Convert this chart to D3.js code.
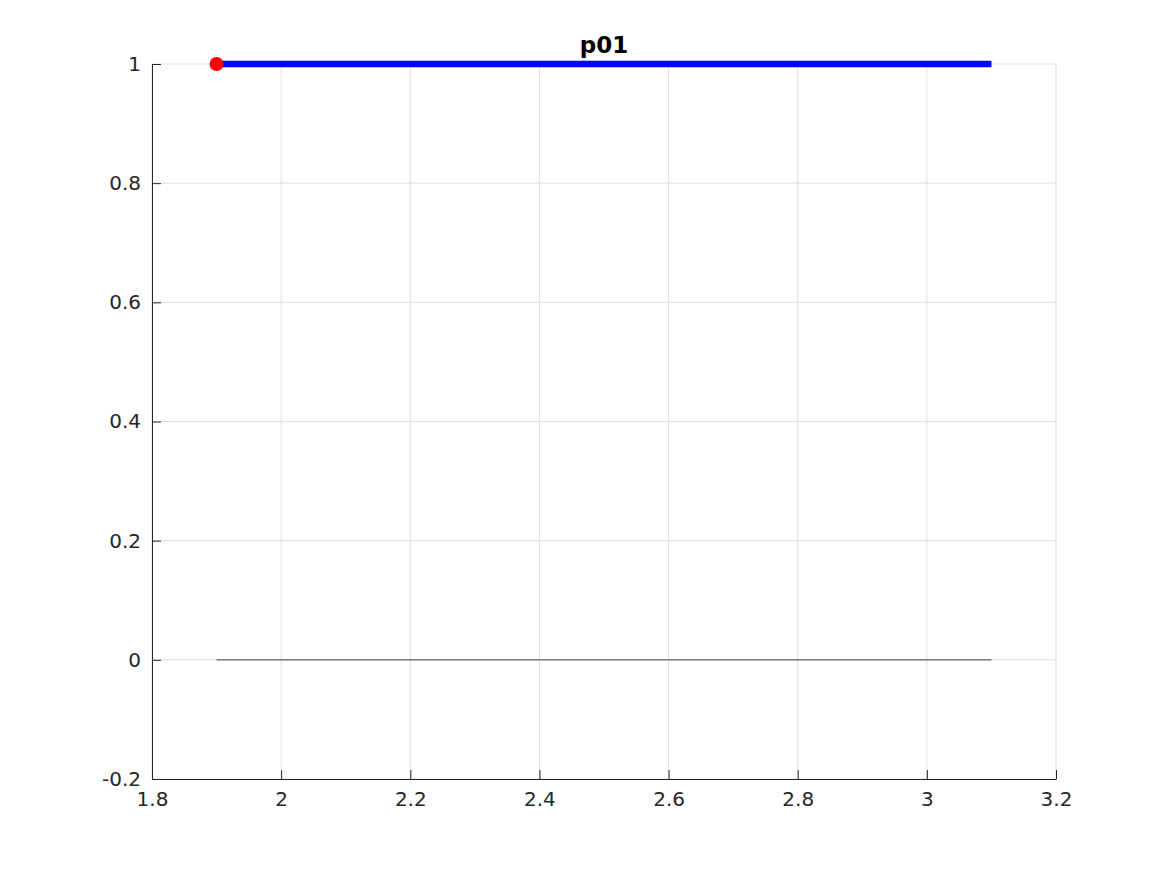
<!DOCTYPE html>
<html>
<head>
<meta charset="utf-8">
<script src="https://cdn.jsdelivr.net/npm/d3@7"></script>
<style>
  body { margin: 0; background: #fff; }
  text { font-family: "DejaVu Sans", sans-serif; }
</style>
</head>
<body>
<svg id="chart" width="1167" height="875"></svg>
<script>
// data
var titleText = 'p01';
var xTicks = [1.8, 2, 2.2, 2.4, 2.6, 2.8, 3, 3.2];
var yTicks = [-0.2, 0, 0.2, 0.4, 0.6, 0.8, 1];
var blueX = [1.9, 3.1];
var blueY = [1, 1];
var zeroX = [1.9, 3.1];
var zeroY = [0, 0];
var dotX = [1.9];
var dotY = [1];

var margin = {top: 64, right: 111, bottom: 96, left: 152};
var width = 1167 - margin.left - margin.right;
var height = 875 - margin.top - margin.bottom;

var svg = d3.select('#chart')
  .append('g')
  .attr('transform', 'translate(' + margin.left + ',' + margin.top + ')');

var x = d3.scaleLinear().domain([1.8, 3.2]).range([0, width]);
var y = d3.scaleLinear().domain([-0.2, 1]).range([height, 0]);

// grid
svg.selectAll('.gx').data(xTicks).enter().append('line')
  .attr('x1', function(d) { return x(d); }).attr('x2', function(d) { return x(d); })
  .attr('y1', 0).attr('y2', height)
  .style('stroke', '#dfdfdf').style('stroke-width', 1);
svg.selectAll('.gy').data(yTicks).enter().append('line')
  .attr('x1', 0).attr('x2', width)
  .attr('y1', function(d) { return y(d); }).attr('y2', function(d) { return y(d); })
  .style('stroke', '#dfdfdf').style('stroke-width', 1);

// axes, ticks inside
var fmt = function(d) { return String(+d.toFixed(1)); };
var xAxis = svg.append('g')
  .attr('transform', 'translate(0,' + height + ')')
  .call(d3.axisBottom(x).tickValues(xTicks).tickSizeInner(-9).tickSizeOuter(0).tickFormat(fmt));
var yAxis = svg.append('g')
  .call(d3.axisLeft(y).tickValues(yTicks).tickSizeInner(-9).tickSizeOuter(0).tickFormat(fmt));

[xAxis, yAxis].forEach(function(a) {
  a.attr('font-family', 'DejaVu Sans').attr('font-size', 20);
  a.select('.domain').style('stroke', '#262626').style('stroke-width', 1);
  a.selectAll('.tick line').style('stroke', '#262626');
  a.selectAll('.tick text').style('fill', '#262626');
});
xAxis.selectAll('.tick text').attr('y', 13);
yAxis.selectAll('.tick text').attr('x', -11);

var line = d3.line()
  .x(function(d) { return x(d[0]); })
  .y(function(d) { return y(d[1]); });

// zero line
svg.append('path')
  .datum(zeroX.map(function(v, i) { return [v, zeroY[i]]; }))
  .attr('d', line)
  .style('fill', 'none').style('stroke', '#666666').style('stroke-width', 1.3);

// blue line
svg.append('path')
  .datum(blueX.map(function(v, i) { return [v, blueY[i]]; }))
  .attr('d', line)
  .style('fill', 'none').style('stroke', '#0000ff').style('stroke-width', 6.5);

// red point
svg.selectAll('.dot').data(dotX).enter().append('circle')
  .attr('cx', function(d) { return x(d); })
  .attr('cy', function(d, i) { return y(dotY[i]); })
  .attr('r', 7)
  .style('fill', '#ff0000');

// title
svg.append('text')
  .attr('x', width / 2).attr('y', -11)
  .attr('text-anchor', 'middle')
  .attr('font-family', 'DejaVu Sans')
  .style('font-size', '23px').style('font-weight', 'bold').style('fill', '#000')
  .text(titleText);
</script>
</body>
</html>
